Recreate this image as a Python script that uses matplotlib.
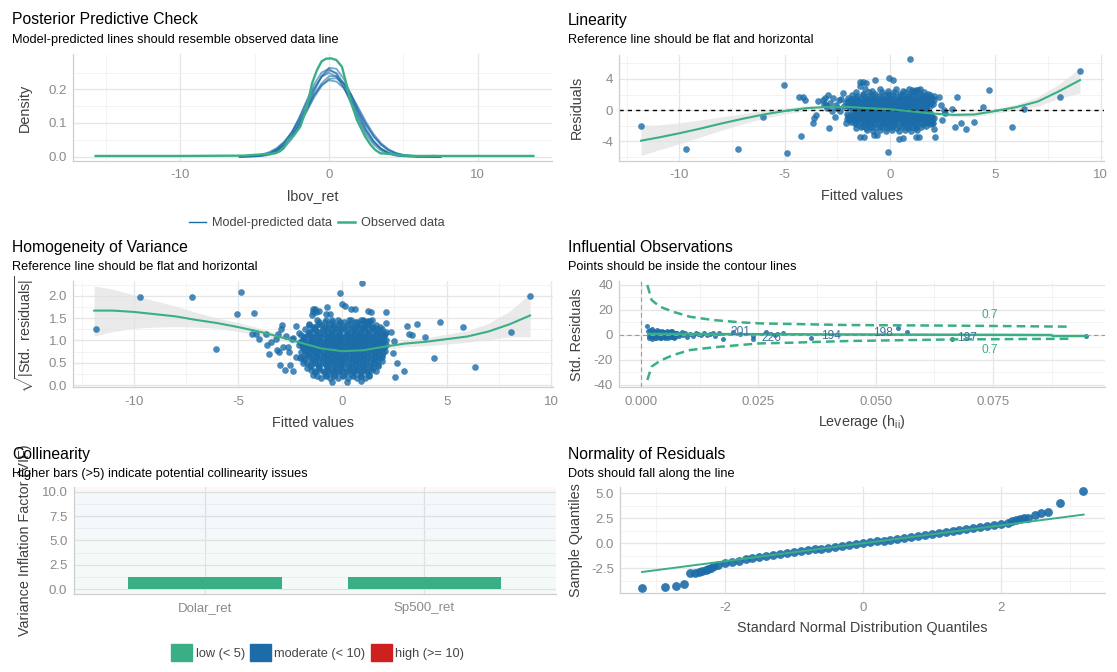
import numpy as np
import matplotlib.pyplot as plt
from matplotlib import ticker
from matplotlib.lines import Line2D
from matplotlib.patches import Patch

plt.rcParams['font.family'] = ['Liberation Sans', 'DejaVu Sans']
plt.rcParams['mathtext.fontset'] = 'custom'
plt.rcParams['mathtext.rm'] = 'Liberation Sans'
plt.rcParams['mathtext.it'] = 'Liberation Sans:italic'
plt.rcParams['axes.unicode_minus'] = False

BLUE = '#1b6ca8'
GREEN = '#3aaf85'
RED = '#cd201f'
W, H = 1117, 672

# --- posterior predictive check (density curves) ---
obs_x = [-15.7, -10, -5.7, -4.4, -3.6, -3.3, -3.05, -2.75, -2.38, -1.93, -1.48, -1.14, -0.81, -0.5,
         -0.2, 0.15, 0.5, 0.87, 1.1, 1.43, 1.88, 2.44, 2.8, 3.11, 3.45, 4.12, 5.0, 6.0, 13.75]
obs_y = [0.002, 0.002, 0.003, 0.007, 0.010, 0.016, 0.025, 0.05, 0.062, 0.089, 0.148, 0.218, 0.257, 0.283,
         0.291, 0.292, 0.287, 0.267, 0.228, 0.168, 0.109, 0.059, 0.035, 0.02, 0.01, 0.008, 0.003, 0.002, 0.002]
pred_x = [-6, -5, -4.5, -4, -3.5, -3, -2.5, -2, -1.5, -1, -0.5, 0, 0.5, 1, 1.5, 2, 2.5, 3, 3.5, 4, 4.5, 5, 6, 7, 7.5]
pred_y = [
    [0.0001, 0.0007, 0.002, 0.005, 0.013, 0.027, 0.053, 0.091, 0.140, 0.193, 0.239, 0.264, 0.261, 0.231, 0.183,
     0.130, 0.082, 0.047, 0.024, 0.011, 0.004, 0.0016, 0.0001, 0, 0],
    [0.0002, 0.0019, 0.0048, 0.011, 0.023, 0.043, 0.073, 0.114, 0.161, 0.205, 0.237, 0.249, 0.237, 0.205, 0.161,
     0.114, 0.073, 0.043, 0.023, 0.011, 0.0048, 0.0019, 0.0002, 0, 0],
    [0.0002, 0.0018, 0.0043, 0.0096, 0.019, 0.036, 0.061, 0.094, 0.134, 0.176, 0.210, 0.231, 0.233, 0.216, 0.183,
     0.143, 0.102, 0.067, 0.040, 0.022, 0.011, 0.005, 0.0008, 0.0001, 0],
    [0.0001, 0.0012, 0.0031, 0.0078, 0.017, 0.035, 0.063, 0.102, 0.151, 0.200, 0.238, 0.256, 0.249, 0.217, 0.171,
     0.121, 0.078, 0.045, 0.023, 0.011, 0.0046, 0.0017, 0.0002, 0.003, 0.001],
    [0.0002, 0.0015, 0.0038, 0.0088, 0.018, 0.035, 0.060, 0.096, 0.138, 0.182, 0.218, 0.239, 0.239, 0.218, 0.182,
     0.138, 0.096, 0.060, 0.035, 0.018, 0.0088, 0.0038, 0.0006, 0.0001, 0],
    [0.0001, 0.0014, 0.0038, 0.0093, 0.021, 0.041, 0.072, 0.116, 0.167, 0.215, 0.250, 0.261, 0.245, 0.206, 0.156,
     0.106, 0.065, 0.036, 0.018, 0.0079, 0.0031, 0.0011, 0.0001, 0, 0],
    [0.0005, 0.003, 0.0067, 0.0137, 0.026, 0.045, 0.072, 0.107, 0.146, 0.184, 0.213, 0.227, 0.223, 0.203, 0.169,
     0.130, 0.093, 0.061, 0.036, 0.020, 0.010, 0.0049, 0.0009, 0.0001, 0],
]

# --- residuals vs fitted (shared by linearity and homogeneity panels) ---
out_fitted = [-11.82, -9.68, -7.22, -6.05, -5.04, -4.87, -4.33, -4.13, -4.02, -4.25, -3.68, -3.61, -3.53, -3.42,
              -3.18, -2.91, -3.1, -2.93, -2.71, -3.02, -2.83, -2.55, -2.43, 0.96, -0.12, 9.01, 8.08, 6.36, 5.78,
              4.7, 4.4, 3.98, 3.6, 3.35, 3.19, 3.09, 2.94, 2.62, 2.54, 2.48, 2.43, 2.32, 2.11, 2.07, 2.0, 1.85,
              1.72, 1.25, 1.25, 1.06, 0.43, -0.04, -0.72, -1.12, -1.43, -1.43, -0.77, -1.62, -2.22, -2.35, -1.93,
              -1.45, -1.29, 0.15, 1.34, -1.26, -0.6, 0.61, 1.39,
              -2.98, -2.74, -2.5, -2.38, -3.15, -2.6, -2.2, -2.05, -1.9, -2.1, 0.2, -0.5, 0.9]
out_resid = [-2.01, -4.92, -4.92, -0.82, 3.16, -5.43, 1.66, 1.66, 1.32, -3.3, -1.67, -1.03, -0.6, 1.19,
             1.32, -2.27, 1.62, 1.96, 1.53, 0.68, 0.9, 0.68, 1.32, 6.58, -5.3, 5.04, 1.75, 0.2, -2.14,
             2.52, 0.47, -1.46, -2.35, -1.59, 1.66, -2.18, 0.13, -0.3, 0.04, -1.24, 0.64, 1.75, -3.38, -2.43, -1.67,
             -1.15, 1.1, -3.46, 2.6, 2.6, -3.68, 4.1, 3.8, 3.46, 3.67, -3.38, -3.13, -2.31, 2.18, 1.41, -1.03,
             3.1, 3.67, 3.9, 2.6, -3.38, -3.17, -3.6, -3.38,
             0.25, -0.15, 0.25, -0.12, 0.76, -0.9, 0.5, -0.45, 0.3, -1.7, 0.005, -0.008, 0.01]
# dense core: (residual, fitted values at that residual)
core_rows = [
    (2.7, [-1.2, -0.5, 0.3, 0.9, 1.4]),
    (2.5, [-0.85, -0.1, 0.6, 1.15]),
    (2.3, [-1.6, -1.0, -0.4, 0.2, 0.7, 1.2, 1.6]),
    (2.1, [-1.3, -0.7, -0.1, 0.45, 0.95, 1.4, 1.8]),
    (1.95, [-1.8, -1.3, -0.8, -0.3, 0.15, 0.6, 1.05, 1.5, 1.9]),
    (1.78, [-1.55, -1.05, -0.55, -0.1, 0.4, 0.85, 1.3, 1.7, 2.1]),
    (1.6, [-2.0, -1.6, -1.2, -0.85, -0.5, -0.15, 0.2, 0.55, 0.9, 1.25, 1.6, 2.0]),
    (1.45, [-1.8, -1.4, -1.05, -0.7, -0.3, 0.05, 0.4, 0.75, 1.1, 1.45, 1.85]),
    (1.3, [-1.9, -1.5, -1.1, -0.75, -0.4, -0.05, 0.3, 0.65, 1.0, 1.35, 1.7, 2.1]),
    (1.15, [-2.0, -1.55, -1.2, -0.85, -0.5, -0.15, 0.2, 0.55, 0.9, 1.25, 1.6, 1.95]),
    (1.0, [-2.1, -1.7, -1.35, -1.0, -0.65, -0.3, 0.05, 0.4, 0.75, 1.1, 1.45, 1.8]),
    (0.88, [-1.9, -1.5, -1.2, -0.85, -0.5, -0.15, 0.2, 0.55, 0.9, 1.25, 1.6, 1.95]),
    (0.75, [-1.8, -1.45, -1.1, -0.75, -0.4, -0.05, 0.3, 0.65, 1.0, 1.35, 1.7, 2.05]),
    (0.62, [-1.75, -1.4, -1.05, -0.7, -0.35, 0.0, 0.35, 0.7, 1.05, 1.4, 1.75]),
    (0.5, [-2.0, -1.6, -1.25, -0.9, -0.55, -0.2, 0.15, 0.5, 0.85, 1.2, 1.55, 1.9]),
    (0.4, [-1.85, -1.45, -1.1, -0.75, -0.4, -0.05, 0.3, 0.65, 1.0, 1.35, 1.7]),
    (0.3, [-1.7, -1.3, -0.95, -0.6, -0.25, 0.1, 0.45, 0.8, 1.15, 1.5]),
    (0.22, [-1.5, -1.1, -0.75, -0.4, -0.05, 0.3, 0.65, 1.0, 1.35, 1.7]),
    (0.15, [-1.5, -1.1, -0.7, -0.35, 0.0, 0.35, 0.7, 1.05, 1.4]),
    (0.1, [-1.3, -0.9, -0.55, -0.2, 0.2, 0.55, 0.9, 1.2]),
    (0.05, [-1.2, -0.8, -0.4, 0.05, 0.5, 0.9, 1.3]),
    (-0.03, [-1.0, -0.6, -0.2, 0.25, 0.7, 1.1]),
    (-0.07, [-1.4, -0.8, -0.4, 0.05, 0.45, 0.85, 1.3]),
    (-0.12, [-1.3, -0.9, -0.5, -0.15, 0.2, 0.55, 0.9, 1.25, 1.6]),
    (-0.18, [-1.7, -1.1, -0.7, -0.3, 0.05, 0.4, 0.75, 1.1, 1.45]),
    (-0.25, [-1.55, -1.15, -0.8, -0.45, -0.1, 0.25, 0.6, 0.95, 1.3, 1.7]),
    (-0.35, [-1.35, -0.95, -0.6, -0.25, 0.1, 0.45, 0.8, 1.15, 1.5, 1.9]),
    (-0.45, [-1.85, -1.45, -1.1, -0.75, -0.4, -0.05, 0.3, 0.65, 1.0, 1.35, 1.75]),
    (-0.56, [-1.65, -1.25, -0.9, -0.55, -0.2, 0.15, 0.5, 0.85, 1.2, 1.55, 1.9]),
    (-0.68, [-2.0, -1.6, -1.25, -0.9, -0.55, -0.2, 0.15, 0.5, 0.85, 1.2, 1.55, 1.95]),
    (-0.8, [-1.75, -1.4, -1.05, -0.7, -0.35, 0.0, 0.35, 0.7, 1.05, 1.4, 1.75]),
    (-0.9, [-1.9, -1.55, -1.2, -0.85, -0.5, -0.15, 0.2, 0.55, 0.9, 1.25, 1.6, 2.0]),
    (-1.02, [-1.75, -1.4, -1.05, -0.7, -0.35, 0.0, 0.35, 0.7, 1.05, 1.4, 1.75, 2.1]),
    (-1.15, [-2.05, -1.65, -1.3, -0.95, -0.6, -0.25, 0.1, 0.45, 0.8, 1.15, 1.5, 1.85]),
    (-1.3, [-1.9, -1.5, -1.15, -0.8, -0.45, -0.1, 0.25, 0.6, 0.95, 1.3, 1.65, 2.0]),
    (-1.45, [-1.85, -1.45, -1.05, -0.7, -0.35, 0.0, 0.35, 0.7, 1.05, 1.4, 1.8]),
    (-1.62, [-1.65, -1.25, -0.9, -0.5, -0.15, 0.2, 0.55, 0.9, 1.25, 1.65, 2.05]),
    (-1.8, [-1.6, -1.15, -0.7, -0.25, 0.2, 0.65, 1.1, 1.5, 1.9]),
    (-1.98, [-1.35, -0.95, -0.5, -0.05, 0.4, 0.85, 1.25, 1.7]),
    (-2.15, [-1.4, -0.9, -0.4, 0.1, 0.6, 1.05, 1.45]),
    (-2.32, [-1.15, -0.65, -0.15, 0.35, 0.85, 1.25]),
    (-2.5, [-1.1, -0.5, 0.1, 0.7, 1.3]),
    (-2.7, [-0.8, -0.2, 0.4, 1.0]),
]
sigma = 1.25

lin_sm_x = [-11.82, -11, -10, -9, -8, -7, -6, -5, -4, -3, -2, -1, 0, 1, 2, 3, 4, 5, 6, 7, 8, 9.01]
lin_sm_y = [-3.9, -3.5, -2.95, -2.35, -1.7, -1.1, -0.55, -0.1, 0.25, 0.42, 0.42, 0.26, 0.12, -0.15, -0.42,
            -0.6, -0.55, -0.1, 0.4, 1.1, 2.4, 3.85]
lin_sm_lo = [-5.8, -5.1, -4.3, -3.45, -2.55, -1.75, -1.05, -0.5, -0.07, 0.2, 0.28, 0.17, 0.03, -0.26, -0.6,
             -0.85, -0.85, -0.42, 0.05, 0.5, 1.5, 2.2]
lin_sm_hi = [-1.9, -1.9, -1.6, -1.25, -0.85, -0.45, -0.05, 0.3, 0.57, 0.64, 0.56, 0.35, 0.21, -0.04, -0.24,
             -0.35, -0.25, 0.22, 0.75, 1.7, 3.3, 5.4]

hom_sm_x = [-11.9, -11, -10, -9, -8, -7, -6, -5, -4, -3, -2, -1, 0, 1, 2, 3, 4, 5, 6, 7, 8, 9]
hom_sm_y = [1.67, 1.67, 1.64, 1.59, 1.54, 1.46, 1.39, 1.3, 1.2, 1.08, 0.95, 0.82, 0.76, 0.78, 0.86, 0.93,
            0.97, 1.03, 1.09, 1.2, 1.36, 1.56]
hom_sm_lo = [1.1, 1.2, 1.27, 1.3, 1.31, 1.3, 1.27, 1.2, 1.12, 1.01, 0.89, 0.78, 0.73, 0.74, 0.8, 0.86,
             0.88, 0.92, 0.96, 1.02, 1.08, 1.08]
hom_sm_hi = [2.22, 2.15, 2.02, 1.89, 1.77, 1.63, 1.5, 1.4, 1.28, 1.15, 1.01, 0.86, 0.79, 0.82, 0.92, 1.0,
             1.06, 1.14, 1.22, 1.38, 1.65, 2.05]

# --- influential observations ---
lev = [0.0015, 0.0017, 0.0019, 0.0021, 0.0023, 0.0025, 0.0027, 0.0029, 0.0031, 0.0033, 0.0035, 0.0037,
       0.0039, 0.0041, 0.0043, 0.0045, 0.0047, 0.0049, 0.0051, 0.0053, 0.0055, 0.0057, 0.0059, 0.0061,
       0.0063, 0.0065, 0.0067, 0.0069, 0.0071, 0.0073,
       0.0016, 0.0018, 0.0020, 0.0022, 0.0024, 0.0026, 0.0028, 0.0030, 0.0032, 0.0034, 0.0036, 0.0038,
       0.0040, 0.0042, 0.0044, 0.0046, 0.0048, 0.0050, 0.0052, 0.0054, 0.0056, 0.0058, 0.0060, 0.0062,
       0.0064, 0.0066, 0.0068, 0.0070, 0.0072, 0.0074, 0.0013,
       0.0077, 0.008, 0.0083, 0.0086, 0.009, 0.0094, 0.0098, 0.0104, 0.011, 0.0116, 0.0122, 0.0128, 0.0134,
       0.014, 0.0146, 0.0152, 0.0158, 0.0165, 0.0175, 0.0196, 0.021, 0.0239, 0.0239, 0.0267, 0.0285, 0.0302,
       0.0363, 0.0547, 0.0566, 0.0662, 0.0948]
std_res = [2.5, -1.5, 3.8, -2.2, 1.0, -0.5, 2.8, -2.8, 0.4, 1.9, -1.2, 3.1, -2.5, 0.8, -0.3, 2.2, -1.8, 1.4,
           -2.9, 0.6, 2.6, -1.0, 1.7, -2.3, 0.2, 3.0, -1.6, 1.1, -2.0, 0.9,
           -2.6, 1.6, -0.8, 4.5, -3.2, 2.0, -1.1, 0.3, -2.4, 3.4, 0.9, -1.9, 1.3, -3.0, 2.7, -0.6, 1.8, -2.1,
           0.5, -1.4, 2.3, -2.7, 1.2, -0.2, 2.9, -1.7, 0.7, -2.5, 1.5, -0.9, 6.5,
           1.2, -1.3, 0.8, 2.1, -0.5, 1.0, -1.8, 0.3, -1.0, 1.4, 0.6, -0.7, 1.2, -0.4, 0.5, 1.6, -0.8, 1.5,
           -3.9, 2.3, 0.6, -1.2, -3.9, 2.2, 0.0, 1.0, -2.5, 5.5, 2.0, -3.3, -1.0]
lab_txt = ['201', '226', '194', '198', '197']
lab_x = [0.0211, 0.0278, 0.0405, 0.0516, 0.0695]
lab_y = [2.2, -2.5, -1.5, 1.4, -2.5]
cook_x = [0.0013, 0.0022, 0.004, 0.0068, 0.0104, 0.0153, 0.021, 0.0253, 0.0323, 0.0438, 0.0668, 0.0912]
cook_hi = [39.6, 27.6, 22.2, 18.2, 14.2, 11.6, 9.8, 8.9, 8.4, 7.6, 7.1, 6.3]
cook_lo = [-36.4, -25.7, -21, -16.4, -12.4, -10.3, -8.4, -7.1, -6.5, -5.2, -3.9, -3.4]
infl_sm_x = [0.0015, 0.01, 0.02, 0.03, 0.04, 0.05, 0.06, 0.07, 0.08, 0.0875, 0.0878, 0.0948]
infl_sm_y = [0.5, 0.4, 0.3, 0.2, 0.1, 0.0, -0.1, -0.2, -0.3, -0.4, -1.2, -1.2]

# --- collinearity ---
terms = ['Dolar_ret', 'Sp500_ret']
vif = [1.28, 1.28]

# --- normality (qq) ---
qq_x = [-3.2, -2.87, -2.71, -2.59, -2.5, -2.44, -2.38, -2.33, -2.28, -2.24, -2.2, -2.16,
        -2.1, -2.0, -1.9, -1.8, -1.7, -1.6, -1.5, -1.4, -1.3, -1.2, -1.1, -1.0, -0.9, -0.8, -0.7, -0.6,
        -0.5, -0.4, -0.3, -0.2, -0.1, 0.0, 0.1, 0.2, 0.3, 0.4, 0.5, 0.6, 0.7, 0.8, 0.9, 1.0, 1.1, 1.2,
        1.3, 1.4, 1.5, 1.6, 1.7, 1.8, 1.9, 2.0, 2.1,
        2.16, 2.22, 2.28, 2.33, 2.4, 2.49, 2.58, 2.68, 2.86, 3.19]
qq_y = [-4.44, -4.34, -4.24, -4.07, -2.94, -2.94, -2.85, -2.76, -2.66, -2.55, -2.42, -2.3,
        -2.12, -1.98, -1.86, -1.72, -1.6, -1.48, -1.37, -1.26, -1.15, -1.06, -0.96, -0.87, -0.79, -0.7,
        -0.61, -0.52, -0.44, -0.35, -0.26, -0.17, -0.08, 0.01, 0.1, 0.19, 0.28, 0.37, 0.46, 0.55, 0.64,
        0.72, 0.81, 0.9, 1.0, 1.09, 1.19, 1.29, 1.39, 1.5, 1.61, 1.72, 1.84, 1.96, 2.08,
        2.22, 2.33, 2.42, 2.5, 2.56, 2.83, 3.0, 3.16, 4.06, 5.27]
qq_line_x = [-3.2, 3.2]
qq_line_y = [-2.87, 2.87]

fitted = list(out_fitted)
resid = list(out_resid)
for r, xs in core_rows:
    for xv in xs:
        fitted.append(xv)
        resid.append(r)
fitted = np.array(fitted)
resid = np.array(resid)
sqrt_std = np.sqrt(np.abs(resid / sigma))

fig = plt.figure(figsize=(W / 100, H / 100), dpi=100)


def axes_px(x0, x1, y0, y1):
    return fig.add_axes([x0 / W, 1 - y1 / H, (x1 - x0) / W, (y1 - y0) / H])


def style(ax, xmaj, xmin, ymaj, ymin, xfmt, yfmt):
    ax.set_xticks(xmaj)
    ax.set_xticks(xmin, minor=True)
    ax.set_yticks(ymaj)
    ax.set_yticks(ymin, minor=True)
    if xfmt:
        ax.xaxis.set_major_formatter(ticker.FormatStrFormatter(xfmt))
    ax.yaxis.set_major_formatter(ticker.FormatStrFormatter(yfmt))
    ax.grid(which='major', color='#e6e6e6', lw=0.9)
    ax.grid(which='minor', color='#f1f1f1', lw=0.6)
    ax.set_axisbelow(True)
    for s in ['top', 'right']:
        ax.spines[s].set_visible(False)
    for s in ['left', 'bottom']:
        ax.spines[s].set_color('#cfcfcf')
        ax.spines[s].set_linewidth(0.9)
    ax.tick_params(which='both', length=0, labelsize=9.5, labelcolor='#8a8a8a')
    ax.tick_params(axis='x', pad=6.0)
    ax.tick_params(axis='y', pad=4.5)


def labels(ax, box, xlab, ylab, xlab_y, ylab_x):
    x0, x1, y0, y1 = box
    if xlab:
        ax.set_xlabel(xlab, fontsize=10.4, color='#404040', va='center')
        ax.xaxis.set_label_coords(0.5, (y1 - xlab_y) / (y1 - y0))
    ax.set_ylabel(ylab, fontsize=10.4, color='#404040', va='center')
    ax.yaxis.set_label_coords((ylab_x - x0) / (x1 - x0), 0.5)


def titles(x, y, title, sub):
    fig.text(x / W, 1 - y / H, title, fontsize=11.3, color='black', va='center', ha='left')
    fig.text(x / W, 1 - (y + 20) / H, sub, fontsize=9.2, color='black', va='center', ha='left')


# panel 1: posterior predictive check
b1 = (73.3, 552, 54, 161)
ax1 = axes_px(*b1)
for py in pred_y:
    ax1.plot(pred_x, py, color=BLUE, lw=1.3, alpha=0.6)
ax1.plot(obs_x, obs_y, color=GREEN, lw=1.7)
ax1.set_xlim(-17.2, 15.0)
ax1.set_ylim(-0.013, 0.305)
style(ax1, [-10, 0, 10], [-15, -5, 5, 15], [0, 0.1, 0.2], [0.05, 0.15, 0.25], '%d', '%.1f')
labels(ax1, b1, 'lbov_ret', 'Density', 196, 25)
titles(12, 20, 'Posterior Predictive Check', 'Model-predicted lines should resemble observed data line')
fig.legend([Line2D([], [], color=BLUE, lw=1.0), Line2D([], [], color=GREEN, lw=1.8)],
           ['Model-predicted data', 'Observed data'], loc='center', bbox_to_anchor=(317 / W, 1 - 223 / H),
           ncol=2, frameon=False, fontsize=9.2, handlelength=1.3, handletextpad=0.5, columnspacing=0.5,
           labelcolor='#444444')

# panel 2: linearity
b2 = (619.3, 1104, 54.7, 161)
ax2 = axes_px(*b2)
ax2.fill_between(lin_sm_x, lin_sm_lo, lin_sm_hi, color='#e3e3e3', alpha=0.75, lw=0)
ax2.scatter(fitted, resid, s=23, color=BLUE, alpha=0.8, lw=0)
ax2.axhline(0, color='black', ls=(0, (3, 3)), lw=1.0)
ax2.plot(lin_sm_x, lin_sm_y, color=GREEN, lw=1.5)
ax2.set_xlim(-12.85, 10.15)
ax2.set_ylim(-6.5, 7.1)
style(ax2, [-10, -5, 0, 5, 10], [-12.5, -7.5, -2.5, 2.5, 7.5], [-4, 0, 4], [-6, -2, 2, 6], '%d', '%d')
labels(ax2, b2, 'Fitted values', 'Residuals', 196, 577)
titles(568, 20, 'Linearity', 'Reference line should be flat and horizontal')

# panel 3: homogeneity of variance
b3 = (73.3, 553, 280.7, 387.3)
ax3 = axes_px(*b3)
ax3.fill_between(hom_sm_x, hom_sm_lo, hom_sm_hi, color='#e3e3e3', alpha=0.75, lw=0)
ax3.scatter(fitted, sqrt_std, s=23, color=BLUE, alpha=0.8, lw=0)
ax3.plot(hom_sm_x, hom_sm_y, color=GREEN, lw=1.5)
ax3.set_xlim(-12.9, 10.1)
ax3.set_ylim(-0.05, 2.34)
style(ax3, [-10, -5, 0, 5, 10], [-12.5, -7.5, -2.5, 2.5, 7.5], [0, 0.5, 1, 1.5, 2],
      [0.25, 0.75, 1.25, 1.75, 2.25], '%d', '%.1f')
labels(ax3, b3, 'Fitted values', r'$\sqrt{|\mathrm{Std.\ residuals}|}$', 423.3, 25)
titles(12, 247.5, 'Homogeneity of Variance', 'Reference line should be flat and horizontal')

# panel 4: influential observations
b4 = (619.3, 1105, 281, 387.3)
ax4 = axes_px(*b4)
ax4.axhline(0, color='#9a9a9a', ls=(0, (4, 3)), lw=0.8)
ax4.axvline(0, color='#9a9a9a', ls=(0, (4, 3)), lw=0.8)
ax4.plot(cook_x, cook_hi, color=GREEN, lw=1.8, ls=(0, (3.5, 2)))
ax4.plot(cook_x, cook_lo, color=GREEN, lw=1.8, ls=(0, (3.5, 2)))
ax4.scatter(lev, std_res, s=13, color=BLUE, alpha=0.85, lw=0)
ax4.plot(infl_sm_x, infl_sm_y, color=GREEN, lw=1.8)
for t, xv, yv in zip(lab_txt, lab_x, lab_y):
    ax4.text(xv, yv, t, fontsize=8.6, color='#3d6ea5', ha='center', va='center')
ax4.text(0.0744, 15.6, '0.7', fontsize=8.6, color=GREEN, ha='center', va='center')
ax4.text(0.0744, -12.4, '0.7', fontsize=8.6, color=GREEN, ha='center', va='center')
ax4.set_xlim(-0.00468, 0.0989)
ax4.set_ylim(-42.2, 42.8)
style(ax4, [0, 0.025, 0.05, 0.075], [0.0125, 0.0375, 0.0625, 0.0875], [-40, -20, 0, 20, 40],
      [-30, -10, 10, 30], '%.3f', '%d')
labels(ax4, b4, r'Leverage (h$_{\mathrm{ii}}$)', 'Std. Residuals', 421.7, 577)
titles(568, 247.5, 'Influential Observations', 'Points should be inside the contour lines')

# panel 5: collinearity
b5 = (73.6, 556, 486.7, 593.8)
ax5 = axes_px(*b5)
ax5.axhspan(-1, 5, color=GREEN, alpha=0.05, lw=0)
ax5.axhspan(5, 10, color=BLUE, alpha=0.045, lw=0)
ax5.axhspan(10, 11, color=RED, alpha=0.03, lw=0)
pos = np.arange(1, len(terms) + 1)
ax5.bar(pos, vif, width=0.7, color=GREEN)
ax5.set_xlim(0.4, 2.6)
ax5.set_ylim(-0.45, 10.5)
style(ax5, pos, [], [0, 2.5, 5, 7.5, 10], [1.25, 3.75, 6.25, 8.75], None, '%.1f')
ax5.set_xticklabels(terms)
labels(ax5, b5, None, 'Variance Inflation Factor (VIF)', None, 25)
titles(12, 454, 'Collinearity', 'Higher bars (>5) indicate potential collinearity issues')
fig.legend([Patch(color=GREEN), Patch(color=BLUE), Patch(color=RED)],
           ['low (< 5)', 'moderate (< 10)', 'high (>= 10)'], loc='center',
           bbox_to_anchor=(317.6 / W, 1 - 652.5 / H), ncol=3, frameon=False, fontsize=9.2,
           handlelength=1.65, handleheight=1.55, handletextpad=0.25, columnspacing=0.4, labelcolor='#444444')

# panel 6: normality of residuals
b6 = (620, 1105, 487, 593.3)
ax6 = axes_px(*b6)
ax6.scatter(qq_x, qq_y, s=40, color=BLUE, alpha=0.9, lw=0)
ax6.plot(qq_line_x, qq_line_y, color=GREEN, lw=1.4)
ax6.set_xlim(-3.52, 3.51)
ax6.set_ylim(-5.0, 5.63)
style(ax6, [-2, 0, 2], [-3, -1, 1, 3], [-2.5, 0, 2.5, 5], [-3.75, -1.25, 1.25, 3.75], '%d', '%.1f')
labels(ax6, b6, 'Standard Normal Distribution Quantiles', 'Sample Quantiles', 628.3, 576)
titles(568, 454, 'Normality of Residuals', 'Dots should fall along the line')

fig.savefig('out.png', dpi=100, facecolor='white')
